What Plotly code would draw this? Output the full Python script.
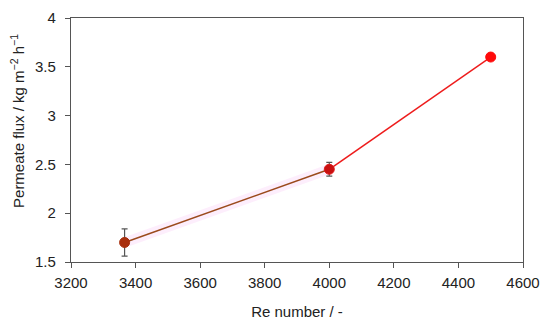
import plotly.graph_objects as go

re_number = [3366, 4000, 4500]
flux = [1.70, 2.45, 3.60]
flux_err = [0.14, 0.07, 0.0]
x_ticks = [3200, 3400, 3600, 3800, 4000, 4200, 4400, 4600]
y_ticks = [1.5, 2, 2.5, 3, 3.5, 4]

fig = go.Figure()

# faint pink halo along the first segment
fig.add_trace(go.Scatter(
    x=re_number[:2], y=flux[:2], mode="lines",
    line=dict(color="rgba(250,205,245,0.35)", width=10),
    hoverinfo="skip",
))
# first segment: brown line
fig.add_trace(go.Scatter(
    x=re_number[:2], y=flux[:2], mode="lines",
    line=dict(color="#9b4a1c", width=1.5),
))
# second segment: red line
fig.add_trace(go.Scatter(
    x=re_number[1:], y=flux[1:], mode="lines",
    line=dict(color="#ee1c1c", width=1.5),
))
# markers with error bars
fig.add_trace(go.Scatter(
    x=re_number, y=flux, mode="markers",
    marker=dict(size=10, color=["#a8300e", "#c81010", "#ff0a0a"],
                line=dict(width=1, color=["#a8300e", "#e01a1a", "#ff0a0a"])),
    error_y=dict(type="data", array=flux_err, visible=True,
                 color="#555555", thickness=1.2, width=3),
))

axis_common = dict(
    showgrid=False, zeroline=False, showline=True, mirror=True,
    linecolor="#555555", linewidth=1.3, ticks="outside", ticklen=5,
    tickcolor="#555555", tickfont=dict(size=15, color="#222222"),
    automargin=False,
)

# page body has an 8px margin, so the figure is a bit smaller than the window
fig.update_layout(
    width=542, height=320,
    margin=dict(l=63, r=27, t=10, b=66),
    paper_bgcolor="white", plot_bgcolor="white",
    showlegend=False,
    font=dict(family="Liberation Sans, Arial, sans-serif", color="#222222"),
    xaxis=dict(range=[3200, 4600], tickvals=x_ticks, ticklabelstandoff=2,
               title=dict(text="Re number / -", font=dict(size=15), standoff=16),
               **axis_common),
    yaxis=dict(range=[1.5, 4], tickvals=y_ticks, ticklabelstandoff=6,
               **axis_common),
    annotations=[dict(
        text="Permeate flux / kg m<sup>−2</sup> h<sup>−1</sup>",
        xref="paper", yref="paper", x=0, y=0.578,
        xanchor="center", yanchor="middle", xshift=-53,
        textangle=-90, showarrow=False, font=dict(size=15, color="#222222"),
    )],
)

fig.write_html("out.html")
